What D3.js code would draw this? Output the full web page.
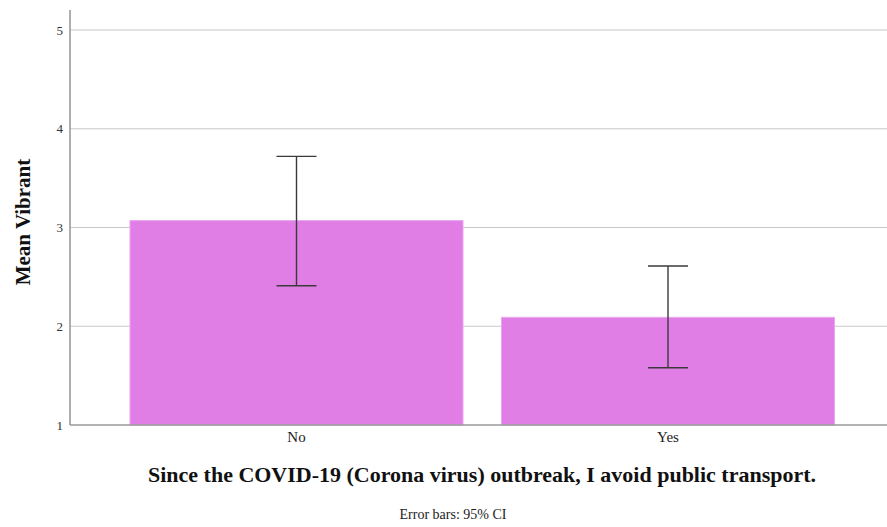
<!DOCTYPE html>
<html>
<head>
<meta charset="utf-8">
<script src="https://cdn.jsdelivr.net/npm/d3@7"></script>
<style>
  html, body { margin: 0; padding: 0; background: #fff; }
  svg { display: block; }
</style>
</head>
<body>
<svg id="chart" width="887" height="527"></svg>
<script>
// Mean "Vibrant" score by answer, with 95% confidence intervals
const categories = ["No", "Yes"];
const means = [3.07, 2.09];
const ciLow = [2.41, 1.58];
const ciHigh = [3.72, 2.61];
const yTicks = [1, 2, 3, 4, 5];

const xTitle = "Since the COVID-19 (Corona virus) outbreak, I avoid public transport.";
const yTitle = "Mean Vibrant";
const footnote = "Error bars: 95% CI";

const svg = d3.select("#chart");
const serif = "'Liberation Serif', 'DejaVu Serif', serif";

const plot = { left: 70, right: 887, top: 10, bottom: 425 };

const y = d3.scaleLinear().domain([1, 5]).range([plot.bottom, 30]);
const x = d3.scaleBand()
  .domain(categories)
  .range([110.75, 853.75])
  .paddingInner(0.1036)
  .paddingOuter(0.0518);

// gridlines
svg.append("g")
  .selectAll("line")
  .data(yTicks.filter(t => t > 1))
  .join("line")
  .attr("x1", plot.left).attr("x2", plot.right)
  .attr("y1", d => y(d)).attr("y2", d => y(d))
  .attr("stroke", "#c8c8c8").attr("stroke-width", 1.2);

// bars
const data = categories.map((c, i) => ({ c, m: means[i], lo: ciLow[i], hi: ciHigh[i] }));
svg.append("g")
  .selectAll("rect")
  .data(data)
  .join("rect")
  .attr("x", d => x(d.c))
  .attr("width", x.bandwidth())
  .attr("y", d => y(d.m))
  .attr("height", d => y(1) - y(d.m))
  .attr("fill", "#e07ee6")
  .attr("stroke", "#eaa6ee")
  .attr("stroke-width", 1);

// error bars
const eb = svg.append("g").attr("stroke", "#3a3a3a").attr("stroke-width", 1.4);
data.forEach(d => {
  const cx = x(d.c) + x.bandwidth() / 2;
  eb.append("line").attr("x1", cx).attr("x2", cx).attr("y1", y(d.hi)).attr("y2", y(d.lo));
  [d.hi, d.lo].forEach(v => {
    eb.append("line").attr("x1", cx - 20).attr("x2", cx + 20).attr("y1", y(v)).attr("y2", y(v));
  });
});

// y axis
const yAxis = svg.append("g")
  .attr("transform", `translate(${plot.left},0)`)
  .call(d3.axisLeft(y).tickValues(yTicks).tickSize(0).tickPadding(7).tickFormat(d3.format("d")));
yAxis.select(".domain").remove();
yAxis.selectAll("text")
  .attr("font-family", serif).attr("font-size", 13).attr("fill", "#333");
svg.append("line")
  .attr("x1", plot.left).attr("x2", plot.left)
  .attr("y1", plot.top).attr("y2", plot.bottom)
  .attr("stroke", "#9a9a9a").attr("stroke-width", 1.6);

// x axis
const xAxis = svg.append("g")
  .attr("transform", `translate(0,${plot.bottom})`)
  .call(d3.axisBottom(x).tickSize(0).tickPadding(6));
xAxis.select(".domain").remove();
xAxis.selectAll("text")
  .attr("font-family", serif).attr("font-size", 15).attr("fill", "#222");
svg.append("line")
  .attr("x1", plot.left).attr("x2", plot.right)
  .attr("y1", plot.bottom).attr("y2", plot.bottom)
  .attr("stroke", "#9a9a9a").attr("stroke-width", 1.6);

// titles
svg.append("text")
  .attr("x", 482).attr("y", 482)
  .attr("text-anchor", "middle")
  .attr("font-family", serif).attr("font-weight", "bold").attr("font-size", 22)
  .attr("textLength", 668).attr("lengthAdjust", "spacingAndGlyphs")
  .attr("fill", "#111")
  .text(xTitle);

svg.append("text")
  .attr("transform", `translate(30,${222}) rotate(-90)`)
  .attr("text-anchor", "middle")
  .attr("font-family", serif).attr("font-weight", "bold").attr("font-size", 21)
  .attr("fill", "#111")
  .text(yTitle);

svg.append("text")
  .attr("x", 453).attr("y", 519)
  .attr("text-anchor", "middle")
  .attr("font-family", serif).attr("font-size", 14)
  .attr("fill", "#222")
  .text(footnote);
</script>
</body>
</html>
